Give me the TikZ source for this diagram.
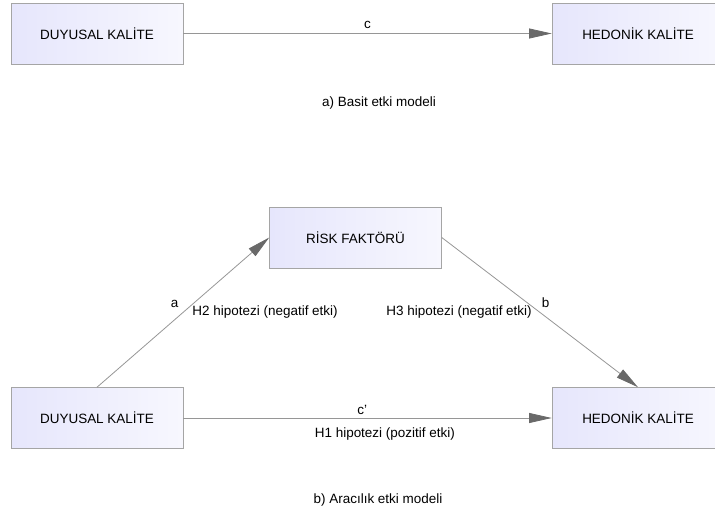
\documentclass[tikz,border=0pt]{standalone}
\usepackage{fontspec}
\setmainfont{Liberation Sans}
\usetikzlibrary{arrows.meta,positioning}
\definecolor{kutukenar}{RGB}{165,165,165}
\definecolor{kutusol}{RGB}{230,230,252}
\definecolor{kutusag}{RGB}{247,247,254}
\definecolor{okgri}{RGB}{150,150,150}
\definecolor{ucgri}{RGB}{105,105,105}

\begin{document}
\begin{tikzpicture}[x=0.75pt,y=-0.75pt,font=\fontsize{10.1}{12}\selectfont,
  >={Triangle[length=17pt,width=7.5pt,color=ucgri]},
  kutu/.style={draw=kutukenar,left color=kutusol,right color=kutusag,
    minimum width=129pt,minimum height=45.75pt,inner sep=0pt},
  ok/.style={->,draw=okgri,line width=0.6pt}]
  \useasboundingbox (0,0) rectangle (715,511);
  \clip (0,0) rectangle (715,511);
  % a) basit model
  \node[kutu] (duyusalA) at (97,33.5) {DUYUSAL KALİTE};
  \node[kutu] (hedonikA) at (638,33.5) {HEDONİK KALİTE};
  \draw[ok] (duyusalA) -- (hedonikA) node[midway,above] (c) {c};
  \node (basliga) at (379,103) {a) Basit etki modeli};
  % b) aracilik modeli
  \node[kutu] (risk) at (355.5,237.5) {RİSK FAKTÖRÜ};
  \node[kutu] (duyusalB) at (97,418) {DUYUSAL KALİTE};
  \node[kutu] (hedonikB) at (638,418) {HEDONİK KALİTE};
  \draw[ok] (duyusalB.north) -- (risk.west)
    node[pos=0.555,left=7pt] (a) {a}
    node[pos=0.5,right=3.4pt] (h2) {H2 hipotezi (negatif etki)};
  \draw[ok] (risk.east) -- (hedonikB.north)
    node[pos=0.438,right=7pt] (b) {b}
    node[pos=0.5,left=2.5pt] (h3) {H3 hipotezi (negatif etki)};
  \draw[ok] (duyusalB) -- (hedonikB)
    node[midway,above=-1pt,xshift=-4pt] (cp) {c'}
    node[midway,below=3.5pt,xshift=13pt] (h1) {H1 hipotezi (pozitif etki)};
  \node (baslikb) at (378,500) {b) Aracılık etki modeli};
\end{tikzpicture}
\end{document}
